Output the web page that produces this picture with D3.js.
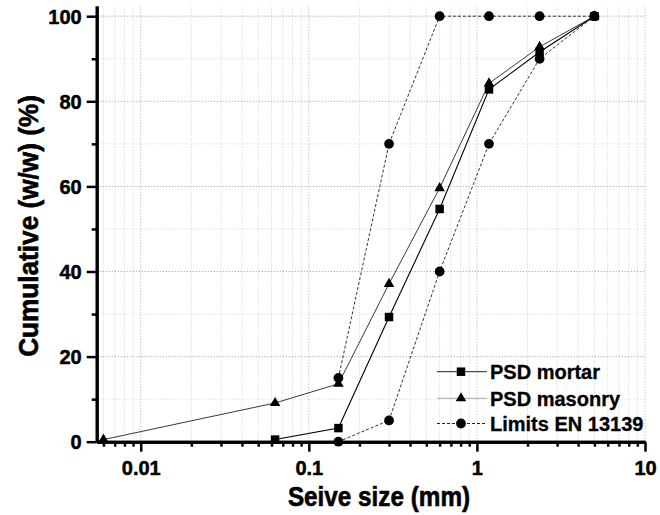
<!DOCTYPE html>
<html lang="en">
<head>
<meta charset="UTF-8" />
<title>Particle size distribution</title>
<script src="https://d3js.org/d3.v7.min.js"></script>
<style>
  body { margin: 0; background: #fff; }
  svg { display: block; font-family: "Liberation Sans", Arial, sans-serif; }
  .axis text { font-size: 20px; font-weight: bold; fill: #000; stroke: #000; stroke-width: 0.5px; }
  .axis path, .axis line { stroke: #000; }
  .legend text { font-size: 20px; font-weight: bold; stroke: #000; stroke-width: 0.3px; }
  .title { font-size: 27px; font-weight: bold; stroke: #000; stroke-width: 0.6px; }
</style>
</head>
<body>
<div id="chart"></div>
<script>
// sieve sizes (mm) and cumulative passing (%)
const sieve = [0.063, 0.15, 0.3, 0.6, 1.18, 2.36, 5];
const mortar = [0.5, 3.2, 29.3, 54.7, 82.8, 91.6, 100];

const masonrySieve = [0.006, 0.063, 0.15, 0.3, 0.6, 1.18, 2.36, 5];
const masonry = [0.5, 9.1, 13.6, 37.1, 59.6, 84.2, 92.8, 100];

const limitSieve = [0.15, 0.3, 0.6, 1.18, 2.36, 5];
const limitLower = [0, 5, 40, 70, 90, 100];
const limitUpper = [15, 70, 100, 100, 100, 100];

const xMajor = [0.01, 0.1, 1, 10];
const xMajorLabels = ["0.01", "0.1", "1", "10"];
const yMajor = [0, 20, 40, 60, 80, 100];
const yMinor = [10, 30, 50, 70, 90];

const legendNames = ["PSD mortar", "PSD masonry", "Limits EN 13139"];

const width = 660, height = 515;

const svg = d3.select("#chart").append("svg")
  .attr("width", width)
  .attr("height", height);

const x = d3.scaleLog().domain([0.00547, 10]).range([96.7, 645]);
const y = d3.scaleLinear().domain([0, 102.4]).range([441.7, 6]);

// minor log ticks
const xMinor = [];
[0.001, 0.01, 0.1, 1].forEach(d => {
  for (let k = 2; k <= 9; k++) {
    const v = d * k;
    if (v >= x.domain()[0] && v <= 10) xMinor.push(v);
  }
});

// grid
const grid = svg.append("g");
grid.selectAll(".vg").data(xMinor.concat(xMajor)).join("line")
  .attr("x1", d => x(d)).attr("x2", d => x(d))
  .attr("y1", y(0)).attr("y2", y(102.4))
  .attr("stroke", d => xMajor.includes(d) ? "#aaa" : "#cfcfcf")
  .attr("stroke-width", 1)
  .attr("stroke-dasharray", "1,2");
grid.selectAll(".hg").data(yMinor.concat(yMajor.slice(1))).join("line")
  .attr("x1", x.range()[0]).attr("x2", x.range()[1])
  .attr("y1", d => y(d)).attr("y2", d => y(d))
  .attr("stroke", d => yMajor.includes(d) ? "#999" : "#d4d4d4")
  .attr("stroke-width", 1)
  .attr("stroke-dasharray", "1,2");

// lines
const line = d3.line().x(d => x(d[0])).y(d => y(d[1]));
const zip = (a, b) => a.map((v, i) => [v, b[i]]);

const series = [
  { pts: zip(limitSieve, limitLower), dash: "3,2", stroke: "#333", w: 1, sym: d3.symbolCircle },
  { pts: zip(limitSieve, limitUpper), dash: "3,2", stroke: "#333", w: 1, sym: d3.symbolCircle },
  { pts: zip(masonrySieve, masonry), dash: null, stroke: "#222", w: 0.9, sym: d3.symbolTriangle },
  { pts: zip(sieve, mortar), dash: null, stroke: "#000", w: 1.1, sym: d3.symbolSquare }
];

series.forEach(s => {
  svg.append("path")
    .datum(s.pts)
    .attr("d", line)
    .attr("fill", "none")
    .attr("stroke", s.stroke)
    .attr("stroke-width", s.w)
    .attr("stroke-dasharray", s.dash);
});

function sizeOf(sym) {
  if (sym === d3.symbolCircle) return 75;
  if (sym === d3.symbolTriangle) return 48;
  return 72;
}
series.forEach(s => {
  svg.append("g").selectAll("path").data(s.pts).join("path")
    .attr("transform", d => `translate(${x(d[0])},${y(d[1])})`)
    .attr("d", d3.symbol().type(s.sym).size(sizeOf(s.sym)))
    .attr("fill", "#000");
});

// axes
const xAxis = svg.append("g").attr("class", "axis")
  .attr("transform", `translate(0,${y(0)})`);
xAxis.call(d3.axisBottom(x).tickValues(xMinor).tickSize(5).tickSizeOuter(0).tickFormat(""));
xAxis.append("g").call(d3.axisBottom(x).tickValues(xMajor).tickSize(10).tickSizeOuter(0)
  .tickPadding(9).tickFormat((d, i) => xMajorLabels[i]));
xAxis.selectAll("path").attr("stroke-width", 3);
xAxis.selectAll("line").attr("stroke-width", 2.5);

const yAxis = svg.append("g").attr("class", "axis")
  .attr("transform", `translate(${x.range()[0]},0)`);
yAxis.call(d3.axisLeft(y).tickValues(yMinor).tickSize(5).tickSizeOuter(0).tickFormat(""));
yAxis.append("g").call(d3.axisLeft(y).tickValues(yMajor).tickSize(10).tickSizeOuter(0).tickPadding(5));
yAxis.selectAll("path").attr("stroke-width", 3);
yAxis.selectAll("line").attr("stroke-width", 2.5);
yAxis.selectAll("text").attr("dy", "0.36em");

// axis titles
svg.append("text").attr("class", "title")
  .attr("transform", `translate(379,506) scale(0.9,1)`)
  .attr("text-anchor", "middle")
  .text("Seive size (mm)");

svg.append("text").attr("class", "title")
  .attr("transform", `translate(38,226) rotate(-90) scale(0.97,1)`)
  .attr("text-anchor", "middle")
  .text("Cumulative (w/w) (%)");

// legend
const legend = svg.append("g").attr("class", "legend");
const legSyms = [d3.symbolSquare, d3.symbolTriangle, d3.symbolCircle];
const legDash = [null, null, "3,2"];
const legRows = [371.7, 398.3, 423.5];
legendNames.forEach((name, i) => {
  const g = legend.append("g").attr("transform", `translate(0,${legRows[i]})`);
  g.append("line").attr("x1", 437).attr("x2", 487)
    .attr("stroke", i === 1 ? "#aaa" : "#222").attr("stroke-width", 1)
    .attr("stroke-dasharray", legDash[i]);
  g.append("path").attr("transform", "translate(461,0)")
    .attr("d", d3.symbol().type(legSyms[i]).size(sizeOf(legSyms[i])));
  g.append("text").attr("x", 490).attr("dy", "0.36em").text(name);
});
</script>
</body>
</html>
